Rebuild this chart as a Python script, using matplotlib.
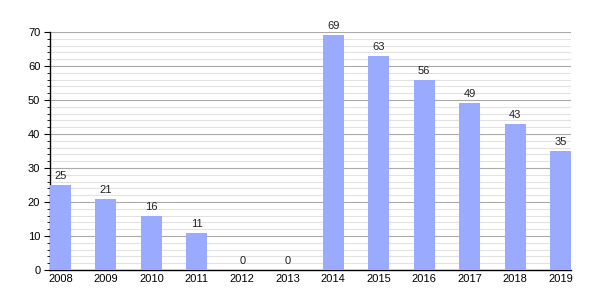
import matplotlib
matplotlib.use('Agg')
from matplotlib import pyplot as plt
from matplotlib.ticker import MultipleLocator

years = ['2008', '2009', '2010', '2011', '2012', '2013',
         '2014', '2015', '2016', '2017', '2018', '2019']
values = [25, 21, 16, 11, 0, 0, 69, 63, 56, 49, 43, 35]

plt.rcParams['font.family'] = ['Liberation Sans', 'DejaVu Sans']

fig = plt.figure(figsize=(6, 3), dpi=100)
ax = fig.add_axes([50 / 600, 30 / 300, 521 / 600, 238 / 300])

x = range(len(years))
w = 0.46
bars = ax.bar(x, values, width=w, color='#99aaff', zorder=3)
for xi, v in zip(x, values):
    ax.text(xi, v + 1.2, str(v), ha='center', va='bottom', fontsize=8, color='#222222')

ax.set_xlim(-w / 2, len(years) - 1 + w / 2)
ax.set_ylim(0, 70)
ax.set_xticks(list(x))
ax.set_xticklabels(years)
ax.yaxis.set_major_locator(MultipleLocator(10))
ax.yaxis.set_minor_locator(MultipleLocator(2))
ax.grid(axis='y', which='major', color='#aaaaaa', linewidth=0.8, zorder=1)
ax.grid(axis='y', which='minor', color='#e2e2e2', linewidth=0.8, zorder=1)

for s in ['top', 'right']:
    ax.spines[s].set_visible(False)
ax.spines['left'].set_linewidth(1)
ax.spines['bottom'].set_linewidth(1)
ax.tick_params(axis='y', which='major', length=4, labelsize=8, pad=3)
ax.tick_params(axis='y', which='minor', length=2)
ax.tick_params(axis='x', length=0, labelsize=8, pad=3)

fig.savefig('out.png')
